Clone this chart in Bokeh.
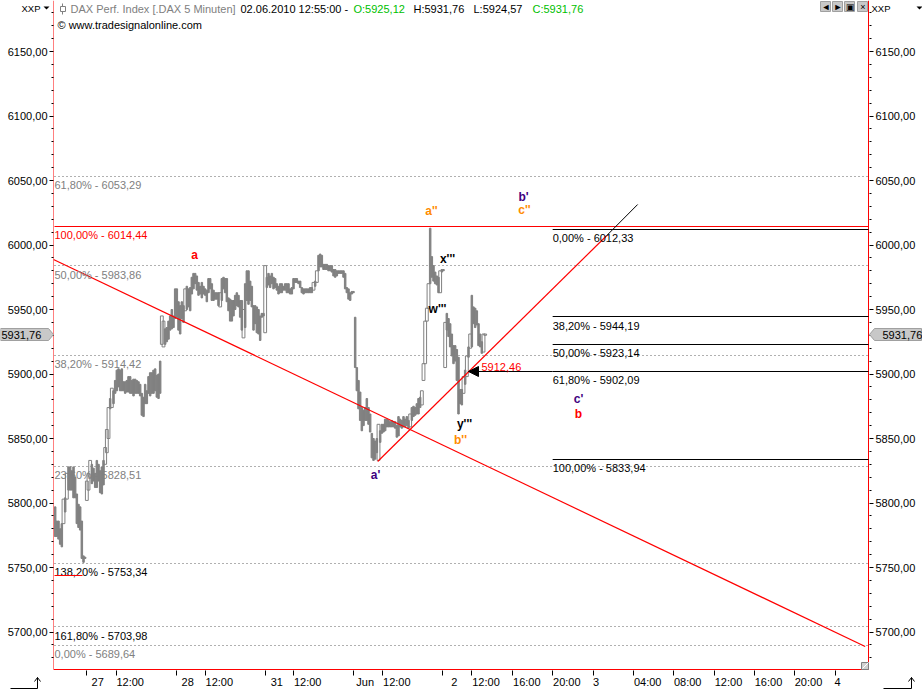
from bokeh.plotting import figure
from bokeh.embed import file_html
from bokeh.resources import INLINE
from bokeh.core.properties import value
from bokeh.models import Range1d, FixedTicker, LinearAxis, Arrow, NormalHead

# ---- data -----
highs = [5797,5786,5786,5780,5784,5803,5804,5823,5828,5828,5825,5828,5820,5807,5799,5797,5786,5759,5758,
 5817,5823,5833,5830,5827,5823,5833,5830,5825,5828,5833,5843,5857,5874,5881,5889,5887,5895,5903,5904,5903,
 5904,5894,5894,5895,5898,5898,5895,5896,5896,5895,5894,5892,5885,5882,5892,5887,5898,5901,5901,5903,5904,
 5899,5900,5910,
 5945,5941,5935,5936,5941,5945,5950,5945,5966,5966,5956,5953,5956,5953,5966,5968,5966,5967,5975,5978,5978,
 5976,5971,5968,5971,5968,5966,5965,5974,5974,5970,5965,5963,5963,5963,5963,5974,5975,5974,5974,5959,5958,
 5957,5957,5961,5963,5961,5957,5957,5950,5970,5980,5980,5972,5968,5953,5953,5952,5950,5945,5947,5947,5984,
 5975,5978,5976,5978,5975,5974,5970,5968,5970,5970,5968,5970,5970,5970,5966,5967,5974,5974,5974,5972,5972,
 5967,5966,5966,5966,5966,5967,5967,5971,5972,5980,5992,5993,5992,5985,5985,5985,5984,5984,5984,5981,5981,
 5980,5980,5980,5980,5980,5978,5967,5966,5963,5964,5964,
 5944,5905,5895,5886,5874,5872,5874,5881,5874,5869,5854,5850,5848,5850,5861,5856,5861,5861,5865,5865,5864,
 5863,5864,5863,5863,5860,5867,5865,5864,5867,5865,5867,5864,5869,5874,5875,5874,5877,5881,5882,5887,
 5908,5941,5951,5970,6013,5991,5984,5979,5976,5975,5980,5981,5981,5940,5947,5943,5939,5931,5922,5922,5919,
 5913,5888,5888,5898,5903,5914,5921,5931,5961,5952,5951,5949,5939,5931,5925,5931,5931]
lows = [5774,5774,5772,5768,5766,5784,5793,5803,5810,5810,5810,5804,5804,5784,5781,5779,5757,5754,5757,
 5802,5810,5820,5815,5817,5812,5812,5817,5808,5807,5814,5830,5839,5850,5873,5874,5877,5885,5887,5890,5887,
 5887,5887,5885,5886,5886,5885,5885,5883,5885,5885,5885,5883,5868,5867,5877,5877,5885,5883,5885,5885,5887,
 5882,5881,5885,
 5923,5921,5923,5925,5927,5934,5935,5936,5943,5944,5934,5931,5943,5940,5949,5950,5952,5949,5962,5966,5970,
 5965,5961,5962,5959,5962,5961,5956,5963,5966,5957,5957,5958,5958,5953,5952,5957,5966,5963,5956,5949,5941,
 5941,5945,5950,5953,5952,5944,5934,5928,5936,5957,5954,5957,5952,5934,5939,5932,5931,5926,5944,5945,5932,
 5967,5969,5967,5970,5966,5967,5965,5962,5963,5963,5965,5965,5963,5963,5962,5962,5966,5971,5971,5970,5967,
 5963,5962,5963,5963,5963,5963,5963,5965,5968,5971,5980,5983,5983,5981,5981,5981,5980,5980,5979,5976,5975,
 5976,5978,5978,5978,5975,5966,5963,5958,5957,5962,5963,
 5905,5887,5873,5864,5856,5860,5864,5864,5861,5855,5835,5833,5834,5839,5833,5847,5854,5855,5856,5859,5859,
 5859,5859,5859,5858,5851,5852,5859,5858,5859,5859,5860,5858,5859,5864,5867,5868,5869,5869,5874,5876,
 5895,5908,5941,5951,5970,5975,5972,5970,5969,5963,5963,5979,5980,5905,5934,5929,5921,5914,5908,5910,5895,
 5869,5877,5876,5885,5892,5898,5913,5920,5921,5939,5936,5938,5922,5921,5916,5917,5930]
bars = [2 * (i + 1) for i in range(len(highs))]
# bars that closed up are drawn hollow
hollow_rows = [6, 8, 20, 21, 22, 31, 32, 33, 35, 65, 66, 79, 100, 114, 127, 156, 158, 195, 214, 221, 222,
               223, 224, 225, 232, 235, 246, 248, 250, 258, 259]

y_ticks = [6150, 6100, 6050, 6000, 5950, 5900, 5850, 5800, 5750, 5700]
y_minor = [v for v in range(5680, 6190, 10) if v not in y_ticks]
x_tick_bars = [39, 75, 147, 182, 254, 288, 360, 395, 467, 502, 551, 599, 648, 696, 744, 793, 841, 889, 938]
x_tick_labels = ["27", "12:00", "28", "12:00", "31", "12:00", "Jun", "12:00", "2", "12:00", "16:00",
                 "20:00", "3", "04:00", "08:00", "12:00", "16:00", "20:00", "4"]
x_label_shift = [12, 14, 12, 14, 12, 14, 12, 14, 12, 14, 14, 14, 2.5, 14, 14, 14, 14, 14, 2.5]

left_levels = [6053.29, 5983.86, 5914.42, 5828.51, 5753.34, 5703.98, 5689.64]
left_level_text = ["61,80% - 6053,29", "50,00% - 5983,86", "38,20% - 5914,42", "23,60% - 5828,51",
                   "138,20% - 5753,34", "161,80% - 5703,98", "0,00% - 5689,64"]
left_level_col = ["#808080", "#808080", "#808080", "#808080", "#000000", "#000000", "#808080"]
red_level = 6014.44
right_levels = [6012.33, 5944.19, 5923.14, 5902.09, 5833.94]
right_level_text = ["0,00% - 6012,33", "38,20% - 5944,19", "50,00% - 5923,14", "61,80% - 5902,09", "100,00% - 5833,94"]

FONT = "Liberation Sans"
PXB = 1.2            # bars per pixel
PXV = 1.29           # pixels per index point
def X(px): return (px - 53) * PXB
def Y(py): return 6150 - (py - 51) / PXV
def snap_v(v): return Y(int(51.5 + (6150 - v) * PXV))    # keep level lines on one pixel row
def snap_b(b): return X(int(53.5 + b / PXB))

p = figure(width=922, height=690, output_backend="svg", toolbar_location=None,
           x_range=Range1d(0, X(869)), y_range=Range1d(Y(670), Y(0)),
           frame_width=816, frame_height=670, min_border_left=53, min_border_right=53,
           min_border_top=0, min_border_bottom=20, x_axis_location=None, y_axis_location=None,
           outline_line_color=None, background_fill_color="white", border_fill_color="white")
p.styles = {"position": "absolute", "left": "0px", "top": "0px"}
p.grid.visible = False

def yaxis(side):
    a = LinearAxis(ticker=FixedTicker(ticks=y_ticks, minor_ticks=y_minor),
                   major_label_overrides={v: f"{v},00" for v in y_ticks},
                   axis_line_color=None,
                   major_tick_in=0, major_tick_out=4, minor_tick_in=0, minor_tick_out=2,
                   major_tick_line_color="#000000", minor_tick_line_color="#000000",
                   major_label_standoff=2, major_label_text_font=FONT,
                   major_label_text_font_size="11px", major_label_text_color="#000000")
    p.add_layout(a, side)
yaxis("left")
yaxis("right")
xa = LinearAxis(ticker=FixedTicker(ticks=[snap_b(b) for b in x_tick_bars], minor_ticks=[]),
                axis_line_color=None, major_tick_in=0, major_tick_out=5,
                major_tick_line_color="#000000", major_label_text_font_size="0px",
                major_label_text_color=None, major_label_standoff=0)
p.add_layout(xa, "below")
label_ticks = [int(round(b + s * PXB)) for b, s in zip(x_tick_bars, x_label_shift)]
xl = LinearAxis(ticker=FixedTicker(ticks=label_ticks, minor_ticks=[]),
                major_label_overrides=dict(zip(label_ticks, x_tick_labels)),
                axis_line_color=None, major_tick_in=0, major_tick_out=0, major_tick_line_color=None,
                major_label_standoff=0, major_label_text_font=FONT, major_label_text_font_size="11px",
                major_label_text_color="#000000")
p.add_layout(xl, "below")

# frame
p.segment(x0=[X(53), X(868), X(53)], x1=[X(53), X(868), X(868)],
          y0=[Y(0), Y(0), Y(669)], y1=[Y(669), Y(669), Y(669)], line_color="#ff0000", line_width=1)

# levels
for v in left_levels:
    p.segment(x0=X(54), x1=X(868), y0=snap_v(v), y1=snap_v(v), line_color="#606060", line_dash="1 3", line_width=1)
p.segment(x0=X(54), x1=X(868), y0=snap_v(red_level), y1=snap_v(red_level), line_color="#ff0000", line_width=1)
for v in right_levels:
    p.segment(x0=599, x1=X(868), y0=snap_v(v), y1=snap_v(v), line_color="#000000", line_width=1)

# price bars
alphas = [0 if i + 1 in hollow_rows else 1 for i in range(len(bars))]
widths = [3.4 if i + 1 in hollow_rows else 1.8 for i in range(len(bars))]
p.vbar(x=bars, width=widths, top=highs, bottom=lows, fill_color="#808080", fill_alpha=alphas,
       line_color="#808080", line_width=1)

# trend lines
p.line([0, 974], [5988.8, 5688.8], line_color="#ff0000", line_width=1.2)
p.line([389, 664], [5832.2, 6007.4], line_color="#ff0000", line_width=1.2)
p.line([664, 701], [6007.4, 6031.4], line_color="#000000", line_width=1)
# arrow to the retracement price
p.segment(x0=X(471), x1=599, y0=snap_v(5902.09), y1=snap_v(5902.09), line_color="#000000", line_width=1)
p.add_layout(Arrow(end=NormalHead(size=10, fill_color="#000000", line_color="#000000"),
                   x_start=X(482), y_start=snap_v(5902.09), x_end=X(468), y_end=snap_v(5902.09),
                   line_color="#000000", line_width=1))

# level texts
p.text(x=[X(54)] * len(left_levels), y=left_levels, text=left_level_text, text_color=left_level_col,
       text_font=value(FONT), text_font_size="11px", text_baseline="middle", y_offset=9)
p.text(x=[X(54)], y=[red_level], text=["100,00% - 6014,44"], text_color="#ff0000",
       text_font=value(FONT), text_font_size="11px", text_baseline="middle", y_offset=9)
p.text(x=[599] * len(right_levels), y=right_levels, text=right_level_text, text_color="#000000",
       text_font=value(FONT), text_font_size="11px", text_baseline="middle", y_offset=9)
p.line([X(54), X(82)], [Y(575), Y(575)], line_color="#ff0000", line_width=1)
p.text(x=[X(481)], y=[Y(366)], text=["5912,46"], text_color="#ff0000", text_font=value(FONT),
       text_font_size="11px", text_baseline="middle")

# wave labels
wave_text = ["a", "a''", "b'", "c''", "a'", "x'''", "w'''", "y'''", "b''", "c'", "b"]
wave_px = [194, 431, 523, 524, 375, 447, 437, 464, 460, 578, 578]
wave_py = [254, 210, 196, 209, 474, 258, 308, 423, 439, 398, 413]
wave_col = ["#ff0000", "#ff8c00", "#400080", "#ff8c00", "#400080", "#000000", "#000000", "#000000",
            "#ff8c00", "#400080", "#ff0000"]
p.text(x=[X(a) for a in wave_px], y=[Y(b) for b in wave_py], text=wave_text, text_color=wave_col,
       text_font=value(FONT), text_font_size="12px", text_font_style="bold",
       text_align="center", text_baseline="middle")

# ---- the window chrome round the chart: a transparent layer in page pixels ----
q = figure(width=922, height=690, output_backend="svg", toolbar_location=None,
           x_range=Range1d(0, 922), y_range=Range1d(690, 0), x_axis_location=None, y_axis_location=None,
           min_border_left=0, min_border_right=0, min_border_top=0, min_border_bottom=0,
           outline_line_color=None, background_fill_color=None, border_fill_color=None)
q.styles = {"position": "absolute", "left": "0px", "top": "0px", "pointer-events": "none"}
q.grid.visible = False

def label(px, py, txt, col="#000000", size="11px", align="left"):
    q.text(x=[px], y=[py], text=[txt], text_color=col, text_font=value(FONT), text_font_size=size,
           text_align=align, text_baseline="middle")
def seg(x0, y0, x1, y1, col="#000000"):
    q.line([x0, x1], [y0, y1], line_color=col, line_width=1)
def poly(xs, ys, fill, line=None):
    q.patch(xs, ys, fill_color=fill, line_color=line, line_width=1)

label(21, 8, "XXP", size="9.5px"); label(871, 8, "XXP", size="9.5px")
poly([43, 49, 46], [6, 6, 9], "#000000")
poly([916, 922, 919], [6, 6, 9], "#000000")
label(70, 8, "DAX Perf. Index [.DAX  5 Minuten]", "#808080")
label(240, 8, "02.06.2010 12:55:00 -")
label(353, 8, "O:5925,12", "#00c000")
label(413, 8, "H:5931,76")
label(473, 8, "L:5924,57")
label(532, 8, "C:5931,76", "#00c000")
label(57, 24, "\u00a9 www.tradesignalonline.com")
poly([60, 65, 65, 60], [6, 6, 11, 11], "#ffffff", "#808080")
seg(62, 3, 62, 6, "#808080"); seg(62, 11, 62, 14, "#808080")

# window buttons
for bx, g in zip([820, 832, 844, 857], ["\u25c4", "\u25ba", "\u25a3", "\u00d7"]):
    poly([bx, bx + 10, bx + 10, bx], [1, 1, 11, 11], "#c8c8c8", "#a0a0a0")
    label(bx + 5.5, 6.5, g, "#000000", "9px", "center")

# price tags
for xs, tx in (([0, 48, 53, 48, 0], 1), ([921, 874, 869, 874, 921], 882)):
    poly(xs, [328, 328, 334, 340, 340], "#c8c8c8", "#a0a0a0")
    label(tx, 334, "5931,76")

# corner icons
for x0, x1 in ((10, 37), (883, 911)):
    seg(x0, 688, x1, 688); seg(x1, 688, x1, 677)
    seg(x1, 677, x1 - 3, 681); seg(x1, 677, x1 + 3, 681)
poly([861, 868, 868, 861], [662, 662, 669, 669], "#d0d0d0", "#808080")
seg(862, 668, 868, 662, "#ffffff")

open("out.html", "w").write(file_html([p, q], INLINE))
